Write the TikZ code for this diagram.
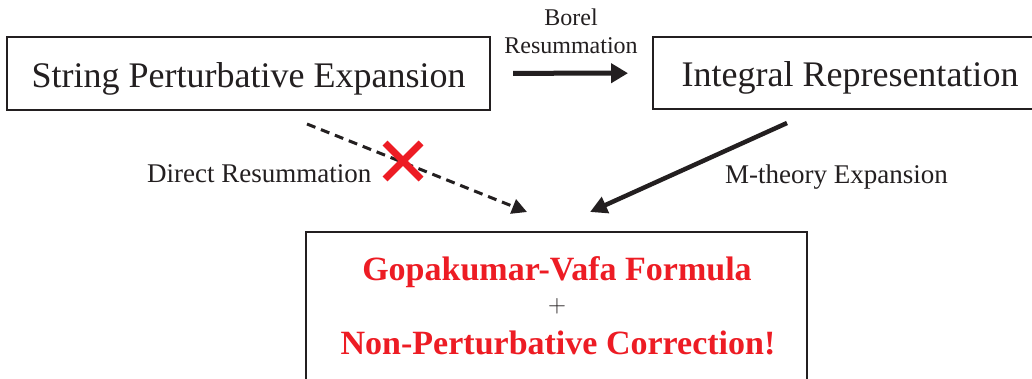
\documentclass[tikz,border=0pt]{standalone}
\usepackage{fontspec}
\setmainfont{Liberation Serif}
\usetikzlibrary{arrows.meta,calc}
\definecolor{ink}{HTML}{231F20}
\definecolor{xred}{HTML}{ED1C24}
\begin{document}
\begin{tikzpicture}[x=1pt,y=-1pt,
  box/.style={draw=ink, line width=2pt, inner sep=0pt, outer sep=0pt, text=ink},
  big/.style={font=\fontsize{36}{40}\selectfont},
  lab/.style={font=\fontsize{27}{30}\selectfont, text=ink, inner sep=0pt},
  res/.style={font=\fontsize{34}{36}\selectfont\bfseries, text=xred, inner sep=0pt},
  thickarr/.style={-{Triangle[length=17pt,width=19pt]}, line width=5pt, draw=ink},
  dasharr/.style={-{Triangle[length=15pt,width=15pt]}, line width=3pt, draw=ink, dash pattern=on 9pt off 6pt},
  marr/.style={-{Triangle[length=17pt,width=17pt]}, line width=4.5pt, draw=ink}]
\useasboundingbox (0,0) rectangle (1032,378);
\clip (0,0) rectangle (1032,378);
\fill[white] (0,0) rectangle (1032,378);
% boxes
\node[box, big, minimum width=483pt, minimum height=73pt, text height=27pt, text depth=0pt] (spe) at (248.5,73.5) {String Perturbative Expansion};
\node[box, big, minimum width=394pt, minimum height=72pt, text height=27pt, text depth=0pt] (ir) at (850,73) {Integral Representation};
\node[box, minimum width=501pt, minimum height=170pt, anchor=north] (gv) at (556.5,232) {};
% result text
\node[res, anchor=base] (gvt) at (557,280) {Gopakumar-Vafa Formula};
\node[text=ink, inner sep=0pt, font=\fontsize{36}{36}\selectfont] (plus) at (557,306) {$+$};
\node[res, anchor=base] (npc) at (558,354) {Non-Perturbative Correction!};
% Borel arrow
\draw[thickarr, shorten <=23pt, shorten >=25pt] (spe) -- (ir);
\node[font=\fontsize{24}{28}\selectfont, text=ink, inner sep=0pt, align=center, anchor=base] (borel) at (571,53) {Borel\\Resummation};
% direct resummation
\coordinate (ds) at (307,124);
\coordinate (de) at (527,212);
\draw[dasharr] (ds) -- (de);
\node[lab, anchor=base west] (dr) at (147,182) {Direct Resummation};
\coordinate (cross) at (403,161);
\draw[xred, line width=7pt] ($(cross)+(-18,-18)$) -- ($(cross)+(18,18)$) ($(cross)+(-18,18)$) -- ($(cross)+(18,-18)$);
% M-theory
\coordinate (ms) at (787,123);
\coordinate (me) at (590,212);
\draw[marr] (ms) -- (me);
\node[lab, anchor=base west] (mt) at (725,183) {M-theory Expansion};
\end{tikzpicture}
\end{document}
